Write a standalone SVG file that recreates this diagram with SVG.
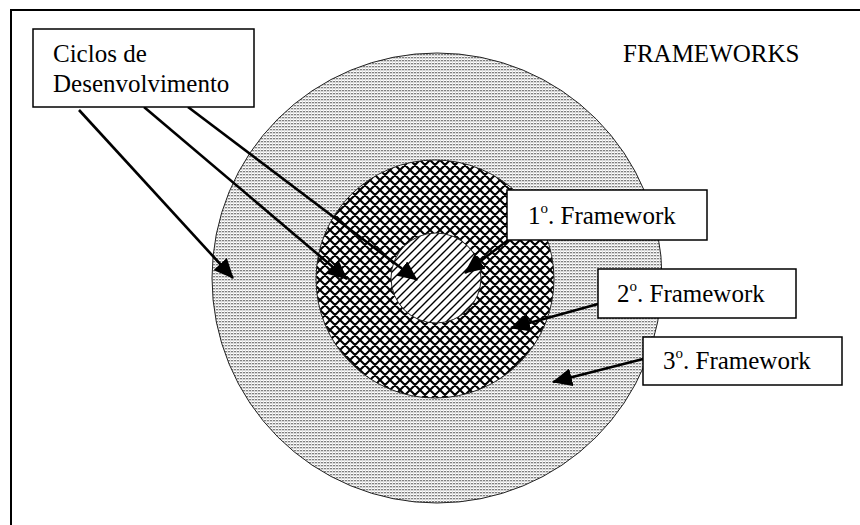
<svg xmlns="http://www.w3.org/2000/svg" width="860" height="525" viewBox="0 0 860 525">
  <style>
    .frame { fill: none; stroke: #000; stroke-width: 2; }
    .ring { stroke: #222; stroke-width: 1; }
    .box { fill: #fff; stroke: #000; stroke-width: 1.5; }
    .label { font-family: "Liberation Serif", "Times New Roman", serif; font-size: 25px; fill: #000; }
    .sup { font-size: 15px; }
    .arrow { stroke: #000; stroke-width: 2.6; fill: none; marker-end: url(#head); }
  </style>
  <defs>
    <!-- fine grey screen for the outer ring -->
    <pattern id="dots" width="3" height="3" patternUnits="userSpaceOnUse">
      <rect width="3" height="3" fill="#fff"/>
      <rect x="0" y="0" width="2" height="1" fill="#808080"/>
      <rect x="0" y="1" width="2" height="1" fill="#d0d0d0"/>
      <rect x="2" y="0" width="1" height="3" fill="#e0e0e0"/>
    </pattern>
    <!-- diagonal cross-hatch for the middle ring -->
    <pattern id="cross" width="10" height="10" patternUnits="userSpaceOnUse">
      <rect width="10" height="10" fill="#fff"/>
      <path d="M-1,-1 L11,11 M11,-1 L-1,11 M-1,9 L1,11 M9,-1 L11,1 M-1,1 L1,-1 M9,11 L11,9" stroke="#000" stroke-width="2.1"/>
    </pattern>
    <!-- single diagonal hatch for the core -->
    <pattern id="hatch" width="8" height="8" patternUnits="userSpaceOnUse">
      <rect width="8" height="8" fill="#fff"/>
      <path d="M-1,9 L9,-1 M-1,1 L1,-1 M7,9 L9,7" stroke="#000" stroke-width="1.4"/>
    </pattern>
    <marker id="head" viewBox="0 0 20 18" refX="19" refY="9" markerWidth="20" markerHeight="18" markerUnits="userSpaceOnUse" orient="auto">
      <path d="M0,0 L20,9 L0,18 Z" fill="#000"/>
    </marker>
  </defs>

  <rect width="860" height="525" fill="#fff"/>
  <rect class="frame" x="11" y="10" width="900" height="600"/>

  <!-- concentric framework rings -->
  <g id="ring3">
    <circle class="ring" cx="437" cy="278" r="225" fill="url(#dots)"/>
  </g>
  <g id="ring2">
    <circle class="ring" cx="435" cy="279" r="119" fill="url(#cross)"/>
  </g>
  <g id="ring1">
    <circle class="ring" cx="436" cy="278" r="45" fill="url(#hatch)"/>
  </g>

  <g id="connectors">
    <line class="arrow" x1="79" y1="110" x2="233" y2="278"/>
    <line class="arrow" x1="144" y1="107" x2="347" y2="279"/>
    <line class="arrow" x1="188" y1="107" x2="417" y2="280"/>
    <line class="arrow" x1="512" y1="237" x2="465" y2="273"/>
    <line class="arrow" x1="598" y1="304" x2="511" y2="328"/>
    <line class="arrow" x1="643" y1="359" x2="553" y2="382"/>
  </g>

  <g id="title">
    <text class="label" x="623" y="62">FRAMEWORKS</text>
  </g>

  <g id="ciclos">
    <rect class="box" x="33" y="29" width="221" height="78"/>
    <text class="label" x="53" y="62">Ciclos de</text>
    <text class="label" x="53" y="92">Desenvolvimento</text>
  </g>

  <g id="fw1">
    <rect class="box" x="507" y="190" width="200" height="50"/>
    <text class="label" x="528" y="224">1<tspan class="sup" dy="-11">o</tspan><tspan dy="11">. Framework</tspan></text>
  </g>

  <g id="fw2">
    <rect class="box" x="598" y="269" width="198" height="49"/>
    <text class="label" x="617" y="302">2<tspan class="sup" dy="-11">o</tspan><tspan dy="11">. Framework</tspan></text>
  </g>

  <g id="fw3">
    <rect class="box" x="643" y="337" width="199" height="48"/>
    <text class="label" x="663" y="369">3<tspan class="sup" dy="-11">o</tspan><tspan dy="11">. Framework</tspan></text>
  </g>
</svg>
